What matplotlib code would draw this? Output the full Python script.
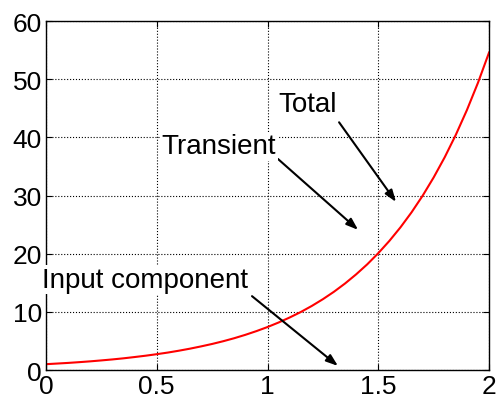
import numpy as np
import matplotlib.pyplot as plt

plt.rcParams['font.family'] = ['Liberation Sans', 'DejaVu Sans']

# time samples and total response
t = [0.00, 0.05, 0.10, 0.15, 0.20, 0.25, 0.30, 0.35, 0.40, 0.45,
     0.50, 0.55, 0.60, 0.65, 0.70, 0.75, 0.80, 0.85, 0.90, 0.95,
     1.00, 1.05, 1.10, 1.15, 1.20, 1.25, 1.30, 1.35, 1.40, 1.45,
     1.50, 1.55, 1.60, 1.65, 1.70, 1.75, 1.80, 1.85, 1.90, 1.95, 2.00]
total = [1.00, 1.11, 1.22, 1.35, 1.49, 1.65, 1.82, 2.01, 2.23, 2.46,
         2.72, 3.00, 3.32, 3.67, 4.06, 4.48, 4.95, 5.47, 6.05, 6.69,
         7.39, 8.17, 9.03, 9.97, 11.02, 12.18, 13.46, 14.88, 16.45, 18.17,
         20.09, 22.20, 24.53, 27.11, 29.96, 33.12, 36.60, 40.45, 44.70, 49.40, 54.60]

xticks = [0, 0.5, 1, 1.5, 2]
xticklabels = ['0', '0.5', '1', '1.5', '2']
yticks = [0, 10, 20, 30, 40, 50, 60]

fig = plt.figure(figsize=(4.96, 4.02), dpi=100)
ax = fig.add_axes([0.0927, 0.0771, 0.8933, 0.8679])

ax.plot(t, total, color='red', lw=1.5)

ax.set_xlim(0, 2)
ax.set_ylim(0, 60)
ax.set_xticks(xticks)
ax.set_xticklabels(xticklabels)
ax.set_yticks(yticks)
ax.tick_params(direction='in', top=True, right=True, labelsize=19, length=4, pad=3)
ax.grid(True, color='black', ls=':', lw=0.8)
for s in ax.spines.values():
    s.set_linewidth(1.0)

arrow = dict(arrowstyle='-|>,head_length=0.7,head_width=0.25', color='black', lw=1.5,
             shrinkA=0, shrinkB=0)
box = dict(facecolor='white', edgecolor='none', pad=1)

labels = [('Total', (1.183, 45.7), (1.323, 42.6), (1.580, 28.9)),
          ('Transient', (0.781, 38.5), (1.047, 36.3), (1.409, 24.1)),
          ('Input component', (0.449, 15.5), (0.930, 12.7), (1.318, 0.7))]
for text, pos, tail, head in labels:
    ax.annotate('', xy=head, xytext=tail, arrowprops=arrow)
    ax.text(pos[0], pos[1], text, fontsize=20, ha='center', va='center', bbox=box)

fig.savefig('out.png', dpi=100)
